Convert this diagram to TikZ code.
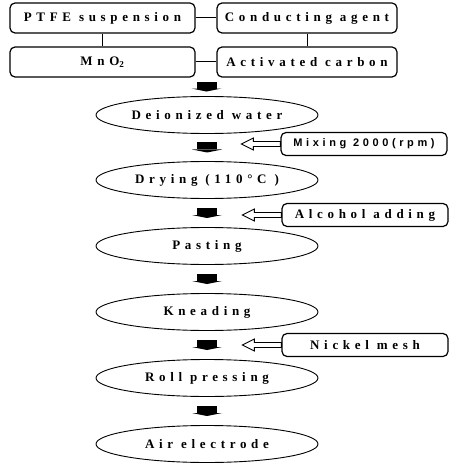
\documentclass[tikz,border=0pt]{standalone}
\usepackage{fontspec}
\setmainfont{Liberation Serif}
\newfontfamily\flowfont[LetterSpace=36]{Liberation Serif}
\newfontfamily\addfont[LetterSpace=33]{Liberation Sans}
\usetikzlibrary{shapes.geometric,calc}

\begin{document}
\begin{tikzpicture}[x=1pt,y=-1pt,
    stuff/.style={draw,rounded corners=5pt,line width=1.2pt,inner sep=0pt,
      minimum height=30pt,font=\flowfont\bfseries\fontsize{13}{13}\selectfont},
    addbox/.style={stuff,minimum height=23pt,minimum width=166pt},
    process/.style={draw,ellipse,line width=0.9pt,inner sep=0pt,
      minimum width=222pt,minimum height=37pt,
      font=\flowfont\bfseries\fontsize{13}{13}\selectfont}]
      \useasboundingbox (0,0) rectangle (452,465);
      % raw materials
      \node[stuff,minimum width=185pt] (ptfe) at (102.5,18) {PTFE suspension};
      \node[stuff,minimum width=180pt] (cond) at (307,18) {Conducting agent};
      \node[stuff,minimum width=185pt] (mno) at (102.5,62) {MnO\textsubscript{2}};
      \node[stuff,minimum width=180pt] (carbon) at (307,62) {Activated carbon};
      \draw[line width=1pt] (ptfe) -- (cond);
      \draw[line width=1pt] (mno) -- (carbon);
      \draw[line width=1pt] (ptfe) -- (mno);
      \draw[line width=1pt] (cond) -- (carbon);
      \coordinate (join) at (206,77);
      % process steps
      \node[process] (water) at (207,115) {Deionized water};
      \node[process] (dry) at (207,180) {Drying (110°C )};
      \node[process] (paste) at (207,246) {Pasting};
      \node[process] (knead) at (207,312) {Kneading};
      \node[process] (roll) at (207,378) {Roll pressing};
      \node[process] (air) at (207,444) {Air electrode};
      % additions
      \node[addbox,font=\addfont\bfseries\fontsize{11}{11}\selectfont]
        (mix) at (364,144) {Mixing 2000(rpm)};
      \node[addbox] (alc) at (365,215) {Alcohol adding};
      \node[addbox] (nickel) at (365,345) {Nickel mesh};
      % block arrows
      \foreach \a/\b in {join/water.north,water.south/dry.north,dry.south/paste.north,
          paste.south/knead.north,knead.south/roll.north,roll.south/air.north}
      {
        \coordinate (m) at ($(\a)!0.5!(\b)$);
        \fill (m) ++(-10,-5) rectangle ++(20,7);
        \fill (m) ++(-15,2) -- ++(30,0) -- ++(-15,3) -- cycle;
      }
      % hollow arrows
      \foreach \s in {mix,alc,nickel}
        \draw[fill=white,line width=0.9pt] (\s.west) ++(0,-2.5) -- ++(-27,0)
          -- ++(0,-3.5) -- ++(-12,6) -- ++(12,6) -- ++(0,-3.5) -- ++(27,0) -- cycle;
\end{tikzpicture}
\end{document}
